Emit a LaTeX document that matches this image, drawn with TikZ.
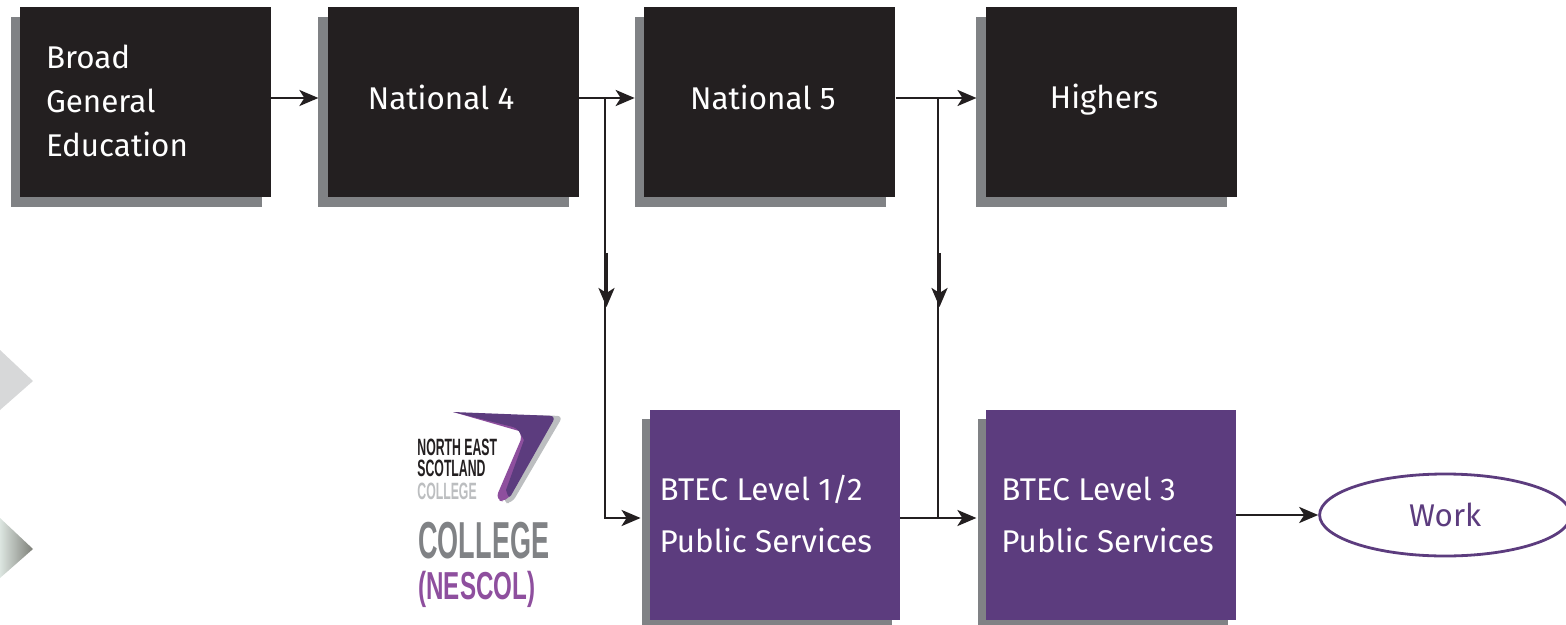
\documentclass[tikz,border=0pt]{standalone}
\usepackage{fontspec}
\setmainfont{Fira Sans}
\newfontfamily\logofont[FakeStretch=0.52]{Liberation Sans Bold}
\newfontfamily\nescolfont[FakeStretch=0.62]{Liberation Sans Bold}
\usetikzlibrary{positioning,arrows.meta,shapes.geometric,shadows}
\definecolor{boxblack}{HTML}{231F20}
\definecolor{boxgrey}{HTML}{808285}
\definecolor{boxpurple}{HTML}{5C3C7E}
\definecolor{logolilac}{HTML}{8E4F9E}
\definecolor{logogrey}{HTML}{BCBEC0}
\definecolor{chevlight}{HTML}{DCE5E0}
\definecolor{chevmid}{HTML}{C5CEC8}
\definecolor{chevdark}{HTML}{7D7F78}
\tikzset{
  blackbox/.style={fill=boxblack,minimum width=125.5pt,minimum height=95pt,inner sep=0pt,
    general shadow={fill=boxgrey,shadow xshift=-4.75pt,shadow yshift=-5pt}},
  purplebox/.style={fill=boxpurple,minimum width=125pt,minimum height=105pt,inner sep=0pt,
    general shadow={fill=boxgrey,shadow xshift=-4pt,shadow yshift=-4.5pt}},
  boxlabel/.style={text=white,inner sep=0pt,align=left,font=\fontsize{15.7}{22}\selectfont},
  btecword/.style={boxlabel,font=\fontsize{15.7}{26}\selectfont},
  link/.style={draw=boxblack,line width=1.4pt},
  flow/.style={link,-{Stealth[length=9.5pt,width=8pt,inset=2.5pt]}},
  logoword/.style={inner sep=0pt,anchor=west},
}
\begin{document}
\begin{tikzpicture}[x=0.5pt,y=-0.5pt]
\clip (0,0) rectangle (1566,625);
% side chevrons
\fill[fill=logogrey!60] (0,350) -- (33,381) -- (0,410) -- cycle;
\shade[left color=chevlight,middle color=chevmid,right color=chevdark] (0,518) -- (33,549) -- (0,578) -- cycle;
% top row
\node (bge) [blackbox] at (145.5,102) {};
\node (natfour) [blackbox,right=28pt of bge] {};
\node (natfive) [blackbox,right=32.25pt of natfour] {};
\node (highers) [blackbox,right=45pt of natfive] {};
\node (bgetext) [boxlabel,right=13pt of bge.west,yshift=0.6pt] {Broad\\General\\Education};
\node (natfourtext) [boxlabel,right=20pt of natfour.west,yshift=2.5pt] {National 4};
\node (natfivetext) [boxlabel,right=23pt of natfive.west,yshift=2.5pt] {National 5};
\node (higherstext) [boxlabel,right=32pt of highers.west,yshift=1pt] {Highers};
% bottom row
\node (btecone) [purplebox] at (775,515) {};
\node (btecthree) [purplebox,right=42.5pt of btecone] {};
\node (work) [ellipse,draw=boxpurple,line width=1.4pt,text=boxpurple,minimum width=125.5pt,minimum height=41pt,inner sep=0pt,
  font=\fontsize{15.7}{20}\selectfont,right=41pt of btecthree] {Work};
\node (bteconetext) [btecword,right=4.75pt of btecone.west,yshift=0.5pt] {BTEC Level 1/2\\Public Services};
\node (btecthreetext) [btecword,right=7.75pt of btecthree.west] {BTEC Level 3\\Public Services};
% connectors
\coordinate (forkA) at (605,98);
\coordinate (dropA) at (606.5,253);
\coordinate (dropAend) at (606.5,307);
\coordinate (forkB) at (938,98);
\coordinate (dropB) at (939.5,253);
\coordinate (dropBend) at (939.5,307);
\coordinate (joinB) at (938,518);
\draw[flow] ([yshift=2pt]bge.east) -- ([xshift=-4.5pt,yshift=2pt]natfour.west);
\draw[flow] ([yshift=2pt]natfour.east) -- ([xshift=-4.5pt,yshift=2pt]natfive.west);
\draw[flow] ([yshift=2pt]natfive.east) -- ([xshift=-4.5pt,yshift=2pt]highers.west);
\draw[flow] (forkA) |- ([xshift=-4.5pt,yshift=-1.5pt]btecone.west);
\draw[link] (forkB) -- (joinB);
\draw[flow] (dropA) -- (dropAend);
\draw[flow] (dropB) -- (dropBend);
\draw[flow] ([yshift=-1.5pt]btecone.east) -- ([xshift=-4.5pt,yshift=-1.5pt]btecthree.west);
\draw[flow] (btecthree.east) -- (work.west);
% college logo
\fill[logogrey,rounded corners=3pt] (530,415) -- (563,416) -- (512,503) -- (503,503) -- cycle;
\fill[logolilac] (453,412) -- (519,431) [rounded corners=2pt] -- (522,437) [rounded corners=4pt] -- (495,500) -- (507,502) [sharp corners] -- (535,440) -- (505,420) -- cycle;
\fill[boxpurple] (453,412) [rounded corners=3pt] -- (556,416) [rounded corners=2pt] -- (509,499) [sharp corners] -- (506,490) -- (524,440) [rounded corners=2pt] -- (517,428) [sharp corners] -- cycle;
\node (logoa) [logoword,text=boxblack,font=\logofont\fontsize{11.8}{12}\selectfont] at (417,447) {NORTH EAST};
\node (logob) [logoword,text=boxblack,font=\logofont\fontsize{11.8}{12}\selectfont] at (417,468) {SCOTLAND};
\node (logoc) [logoword,text=logogrey,font=\logofont\fontsize{11.8}{12}\selectfont] at (417,491) {COLLEGE};
\node (collegeword) [logoword,text=boxgrey,font=\logofont\fontsize{26}{28}\selectfont] at (418,541) {COLLEGE};
\node (nescolword) [logoword,text=logolilac,font=\nescolfont\fontsize{19.5}{21}\selectfont] at (418,589) {(NESCOL)};
\end{tikzpicture}
\end{document}
